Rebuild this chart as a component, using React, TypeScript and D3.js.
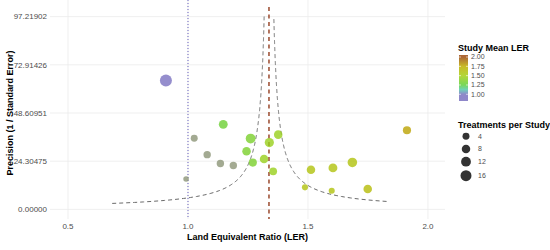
import * as React from 'react';
import * as d3 from 'd3';

// Per-treatment values
const ler = [0.908, 0.992, 1.026, 1.08, 1.135, 1.189, 1.147, 1.244, 1.261, 1.27, 1.317, 1.339, 1.355, 1.376, 1.4875, 1.5125, 1.599, 1.604, 1.685, 1.749, 1.9125]
const precision = [65.0, 15.3, 35.9, 27.6, 23.1, 22.1, 42.9, 29.3, 35.7, 23.6, 25.4, 33.7, 19.2, 37.7, 11.1, 20.0, 9.4, 20.9, 23.7, 10.3, 39.9]
const treatments = [20, 1, 4, 5, 5, 5, 9, 8, 12, 7, 8, 10, 6, 8, 2, 8, 2, 9, 11, 8, 7]
// null = no study mean (drawn grey)
const studyMean: (number | null)[] = [1.0, null, null, null, null, null, 1.3, 1.35, 1.35, 1.35, 1.45, 1.45, 1.45, 1.45, 1.6, 1.6, 1.6, 1.6, 1.6, 1.65, 1.78]

const pooledLER = 1.3375
const refLER = 1.0

const xTicks = [0.5, 1.0, 1.5, 2.0]
const yTicks = [0, 24.30475, 48.60951, 72.91426, 97.21902]
const colorTicks = [1.0, 1.25, 1.5, 1.75, 2.0]
const sizeTicks = [4, 8, 12, 16]

const colorStops = [1.0, 1.12, 1.25, 1.5, 1.75, 2.0]
const colorRange = ['#7b72c0', '#55c9b0', '#5fd03c', '#a6cf14', '#bfae00', '#9c4a12']
const naColor = '#8c9577'

const margin = { top: 7, right: 105, bottom: 31, left: 50 }
const width = 550
const height = 250

export default function App() {
    const innerW = width - margin.left - margin.right
    const innerH = height - margin.top - margin.bottom

    const x = d3.scaleLinear().domain([0.425, 2.071]).range([margin.left, margin.left + innerW])
    const y = d3.scaleLinear().domain([-4.86, 102.08]).range([margin.top + innerH, margin.top])
    const color = d3.scaleLinear<string>().domain(colorStops).range(colorRange).clamp(true)
    const area = d3.scaleLinear().domain([0, 20]).range([6.25, 36])
    const r = (n: number) => Math.sqrt(area(n))

    // funnel: pooled estimate +/- 1.96 / precision
    const funnelLeft = d3.range(3, 97.3, 0.25).map(p => [x(pooledLER - 1.96 / p), y(p)] as [number, number])
    const funnelRight = d3.range(4, 97.3, 0.25).map(p => [x(pooledLER + 1.96 / p), y(p)] as [number, number])
    const line = d3.line()

    // colour bar
    const cb = d3.scaleLinear().domain([1, 2]).range([94.3, 57])
    const cbTop = 55, cbBottom = 101
    const cbStops = d3.range(0, 1.0001, 0.05).map(t => {
        const v = cb.invert(cbBottom - t * (cbBottom - cbTop))
        return { offset: t, col: color(v) }
    })
    const sizeY = [136.3, 149, 161.7, 175.7]

    const font = 'Liberation Sans, Arial, sans-serif'

    return (
        <svg width={width} height={height} style={{ position: 'absolute', left: 0, top: 0, background: '#fff' }} fontFamily={font}>
            <defs>
                <linearGradient id="cbar" x1="0" y1="1" x2="0" y2="0">
                    {cbStops.map((s, i) => <stop key={i} offset={s.offset} stopColor={s.col} stopOpacity={0.85} />)}
                </linearGradient>
            </defs>
            {/* grid */}
            {yTicks.map(t => (
                <line key={'gy' + t} x1={margin.left} x2={margin.left + innerW} y1={y(t)} y2={y(t)} stroke="#ebebeb" strokeWidth={0.8} />
            ))}
            {xTicks.map(t => (
                <line key={'gx' + t} x1={x(t)} x2={x(t)} y1={margin.top - 7} y2={margin.top + innerH} stroke="#ebebeb" strokeWidth={0.8} />
            ))}
            {/* funnel */}
            <path d={line(funnelLeft) || ''} fill="none" stroke="#6b6b6b" strokeWidth={1} strokeDasharray="4,3" />
            <path d={line(funnelRight) || ''} fill="none" stroke="#6b6b6b" strokeWidth={1} strokeDasharray="4,3" />
            {/* reference lines */}
            <line x1={x(refLER)} x2={x(refLER)} y1={margin.top - 7} y2={margin.top + innerH} stroke="#6a62c0" strokeWidth={1} strokeDasharray="1,2" />
            <line x1={x(pooledLER)} x2={x(pooledLER)} y1={margin.top} y2={margin.top + innerH} stroke="#8b2e0e" strokeWidth={1.3} strokeDasharray="4,3.5" />
            {/* points */}
            {ler.map((v, i) => (
                <circle key={i} cx={x(v)} cy={y(precision[i])} r={r(treatments[i])}
                    fill={studyMean[i] == null ? naColor : color(studyMean[i] as number)} fillOpacity={0.8} />
            ))}
            {/* axes text */}
            {yTicks.map(t => (
                <text key={'ty' + t} x={47} y={y(t)} dy="0.35em" textAnchor="end" fontSize={8} fill="#4d4d4d">{d3.format('.5f')(t)}</text>
            ))}
            {xTicks.map(t => (
                <text key={'tx' + t} x={x(t)} y={229} textAnchor="middle" fontSize={8} fill="#4d4d4d">{d3.format('.1f')(t)}</text>
            ))}
            <text x={margin.left + innerW / 2} y={240} textAnchor="middle" fontSize={9} fontWeight="bold" fill="#000">Land Equivalent Ratio (LER)</text>
            <text transform={`translate(12.5,${margin.top + innerH / 2}) rotate(-90)`} textAnchor="middle" fontSize={9} fontWeight="bold" fill="#000">Precision (1 / Standard Error)</text>
            {/* colour legend */}
            <text x={458} y={51} fontSize={9} fontWeight="bold" fill="#000">Study Mean LER</text>
            <rect x={459} y={cbTop} width={9} height={cbBottom - cbTop} fill="url(#cbar)" />
            {colorTicks.map(t => (
                <g key={'ct' + t}>
                    <line x1={459} x2={461} y1={cb(t)} y2={cb(t)} stroke="#fff" strokeWidth={0.6} />
                    <line x1={466} x2={468} y1={cb(t)} y2={cb(t)} stroke="#fff" strokeWidth={0.6} />
                    <text x={471} y={cb(t)} dy="0.35em" fontSize={7} fill="#4d4d4d">{d3.format('.2f')(t)}</text>
                </g>
            ))}
            {/* size legend */}
            <text x={458} y={127.5} fontSize={9} fontWeight="bold" fill="#000">Treatments per Study</text>
            {sizeTicks.map((t, i) => (
                <g key={'st' + t}>
                    <circle cx={466} cy={sizeY[i]} r={r(t)} fill="#333" />
                    <text x={478} y={sizeY[i]} dy="0.35em" fontSize={7} fill="#4d4d4d">{t}</text>
                </g>
            ))}
        </svg>
    )
}
